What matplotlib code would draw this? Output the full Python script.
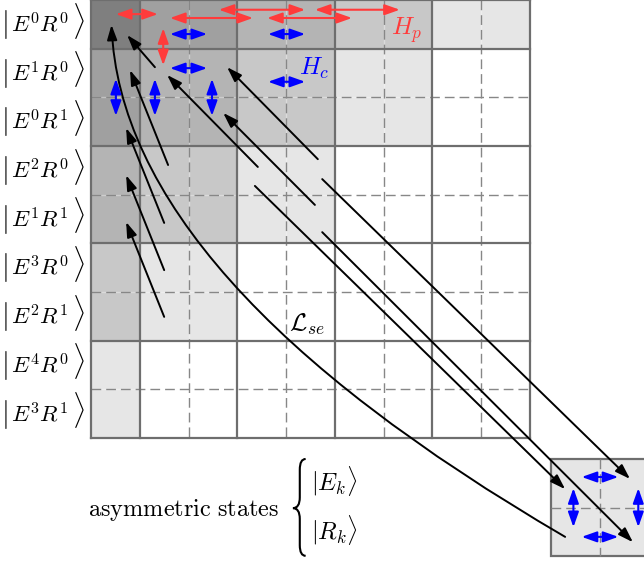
import matplotlib
matplotlib.use('Agg')
import matplotlib.pyplot as plt
from matplotlib.patches import Rectangle, FancyArrowPatch, PathPatch
from matplotlib.path import Path

plt.rcParams['mathtext.fontset'] = 'cm'

# ---------------- data (grid units: one sub-cell = 1, y grows downward) ----------------
row_states = [r'E^{0}R^{0}', r'E^{1}R^{0}', r'E^{0}R^{1}', r'E^{2}R^{0}', r'E^{1}R^{1}',
              r'E^{3}R^{0}', r'E^{2}R^{1}', r'E^{4}R^{0}', r'E^{3}R^{1}']
block_sizes = [1, 2, 2, 2, 2]
shade_by_order = ['#7f7f7f', '#a0a0a0', '#b4b4b4', '#c8c8c8', '#e6e6e6']

red_arrows = [((0.51, 0.29), (1.37, 0.29)),
              ((1.62, 0.37), (3.32, 0.37)),
              ((2.62, 0.20), (4.39, 0.20)),
              ((3.61, 0.37), (5.35, 0.37)),
              ((4.59, 0.20), (6.33, 0.20)),
              ((1.48, 0.58), (1.48, 1.34))]
blue_arrows = [((1.62, 0.70), (2.38, 0.70)),
               ((3.63, 0.70), (4.39, 0.70)),
               ((1.62, 1.40), (2.38, 1.40)),
               ((3.63, 1.68), (4.39, 1.68)),
               ((0.51, 1.62), (0.51, 2.38)),
               ((1.31, 1.62), (1.31, 2.38)),
               ((2.48, 1.62), (2.48, 2.38)),
               ((10.06, 9.80), (10.81, 9.80)),
               ((10.06, 11.03), (10.81, 11.03)),
               ((9.89, 10.03), (9.89, 10.83)),
               ((11.22, 10.03), (11.22, 10.83))]
black_arrows = [((1.31, 1.38), (0.74, 0.72)),
                ((1.58, 3.39), (0.80, 1.44)),
                ((1.50, 4.58), (0.72, 2.63)),
                ((1.50, 5.55), (0.72, 3.60)),
                ((1.50, 6.51), (0.72, 4.56)),
                ((3.42, 3.43), (1.56, 1.54)),
                ((4.59, 4.21), (2.71, 2.32)),
                ((4.65, 3.27), (2.79, 1.38)),
                ((3.36, 3.82), (9.72, 10.05)),
                ((4.74, 3.68), (11.05, 9.84)),
                ((4.74, 4.77), (11.11, 11.14))]
lse_curve = [(9.72, 11.03), (0.64, 5.73), (0.42, 0.51)]   # tail, control, head

asym_box = (9.43, 9.43, 2)
asym_labels = [r'$|E_k\rangle$', r'$|R_k\rangle$']

# ---------------- figure ----------------
fig = plt.figure(figsize=(6.44, 5.61), dpi=100)
ax = fig.add_axes([0, 0, 1, 1])
ax.set_xlim(-1.866, 11.337)
ax.set_ylim(11.526, 0)
ax.axis('off')

edges = [0]
for s in block_sizes:
    edges.append(edges[-1] + s)
n = edges[-1]

for i, si in enumerate(block_sizes):
    for j, sj in enumerate(block_sizes):
        k = i + j
        fc = shade_by_order[k] if k < len(shade_by_order) else 'white'
        ax.add_patch(Rectangle((edges[j], edges[i]), sj, si, fc=fc, ec='none', zorder=0))

sub_lines = [e for e in range(1, n) if e not in edges]
dash = (0, (7, 3.6))
for v in sub_lines:
    ax.plot([v, v], [0, n], color='white', alpha=0.35, lw=1.0, zorder=1)
    ax.plot([0, n], [v, v], color='white', alpha=0.35, lw=1.0, zorder=1)
    ax.plot([v, v], [0, n], color='#878787', lw=1.0, ls=dash, zorder=2)
    ax.plot([0, n], [v, v], color='#878787', lw=1.0, ls=dash, zorder=2)
for e in edges:
    ax.plot([e, e], [0, n], color='#6e6e6e', lw=1.6, zorder=3, solid_capstyle='projecting')
    ax.plot([0, n], [e, e], color='#6e6e6e', lw=1.6, zorder=3, solid_capstyle='projecting')

# asymmetric box
bx, by, bs = asym_box
ax.add_patch(Rectangle((bx, by), bs, bs, fc='#e6e6e6', ec='#6e6e6e', lw=1.6, zorder=1))
ax.plot([bx + bs / 2] * 2, [by, by + bs], color='#878787', lw=1.0, ls=dash, zorder=2)
ax.plot([bx, bx + bs], [by + bs / 2] * 2, color='#878787', lw=1.0, ls=dash, zorder=2)

# row labels: big bar, state, big angle bracket
for r, st in enumerate(row_states):
    yb = r + 0.5 + 0.16
    ax.text(-1.77, yb, r'$|$', fontsize=20.5, ha='center', va='baseline')
    ax.text(-1.65, yb, '$' + st + '$', fontsize=16.5, ha='left', va='baseline')
    ax.text(-0.14, yb, r'$\rangle$', fontsize=20.5, ha='right', va='baseline')

# arrows
dstyle = '<|-|>,head_length=0.9,head_width=0.32'
sstyle = '-|>,head_length=0.9,head_width=0.3'
for a, b in red_arrows:
    ax.add_patch(FancyArrowPatch(a, b, arrowstyle=dstyle, mutation_scale=10, color='#ff3b3b',
                                 lw=1.5, shrinkA=0, shrinkB=0, zorder=6))
for a, b in blue_arrows:
    ax.add_patch(FancyArrowPatch(a, b, arrowstyle=dstyle, mutation_scale=10, color='#0000ff',
                                 lw=1.5, shrinkA=0, shrinkB=0, zorder=6))
for a, b in black_arrows:
    ax.add_patch(FancyArrowPatch(a, b, arrowstyle=sstyle, mutation_scale=10, color='black',
                                 lw=1.4, shrinkA=0, shrinkB=0, zorder=5))
curve = Path(lse_curve, [Path.MOVETO, Path.CURVE3, Path.CURVE3])
ax.add_patch(FancyArrowPatch(path=curve, arrowstyle=sstyle, mutation_scale=10, color='black',
                             lw=1.4, shrinkA=0, shrinkB=0, zorder=5))

# operator labels
ax.text(6.48, 0.62, r'$H_p$', color='#ff3b3b', fontsize=18, ha='center', va='center', zorder=7)
ax.text(4.57, 1.40, r'$H_c$', color='#0000ff', fontsize=18, ha='center', va='center', zorder=7)
ax.text(4.43, 6.66, r'$\mathcal{L}_{se}$', color='black', fontsize=18, ha='center', va='center', zorder=7)

# asymmetric states
ax.text(1.89, 10.48, r'$\mathrm{asymmetric\ states}$', fontsize=17.5, ha='center', va='center')
xr, xm, xl = 4.40, 4.28, 4.14
yt, yc, yb, h = 9.43, 10.44, 11.42, 0.22
brace = Path([(xr, yt), (xm, yt), (xm, yt + h), (xm, yc - h), (xm, yc), (xl, yc),
              (xm, yc), (xm, yc + h), (xm, yb - h), (xm, yb), (xr, yb)],
             [Path.MOVETO, Path.CURVE3, Path.CURVE3, Path.LINETO, Path.CURVE3, Path.CURVE3,
              Path.CURVE3, Path.CURVE3, Path.LINETO, Path.CURVE3, Path.CURVE3])
ax.add_patch(PathPatch(brace, fc='none', ec='black', lw=1.5))
for k, lab in enumerate(asym_labels):
    ax.text(4.98, 9.88 + k * 1.01, lab, fontsize=17.5, ha='center', va='center')

fig.savefig('out.png', dpi=100)
